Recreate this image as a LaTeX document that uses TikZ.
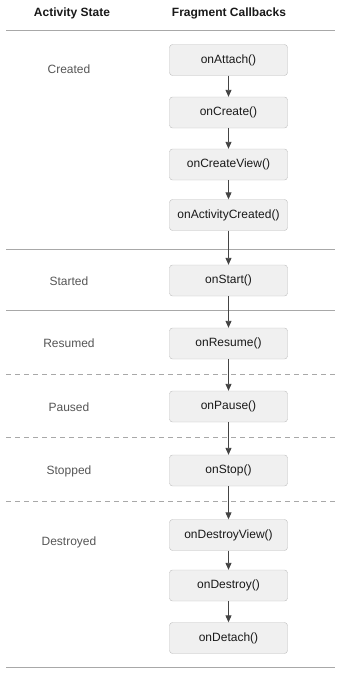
\documentclass[tikz,border=0pt]{standalone}
\usepackage{fontspec}
\setmainfont{Liberation Sans}
\usepackage{tikz}
\usetikzlibrary{arrows.meta}
\definecolor{boxfill}{HTML}{F0F0F0}
\definecolor{boxline}{HTML}{BDBDBD}
\definecolor{sepline}{HTML}{A8A8A8}
\definecolor{arrowc}{HTML}{444444}
\definecolor{statec}{HTML}{555555}

\begin{document}
\begin{tikzpicture}[x=1pt,y=-1pt,
  cb/.style={draw=boxline,fill=boxfill,rounded corners=3pt,minimum width=118pt,minimum height=31pt,inner sep=0pt,font=\fontsize{12}{14}\selectfont,text=black!90},
  state/.style={font=\fontsize{12}{14}\selectfont,text=statec},
  head/.style={font=\fontsize{12}{14}\selectfont\bfseries,text=black!90},
  solidsep/.style={draw=sepline,line width=0.8pt},
  dashsep/.style={draw=sepline,line width=0.8pt,dash pattern=on 5pt off 4pt},
  flow/.style={draw=arrowc,line width=0.9pt,-{Triangle[length=7pt,width=6pt]}}]
  \useasboundingbox (0,0) rectangle (340,675);
  % headers
  \node[head] (hstate) at (72,13) {Activity State}; \node[head] (hcb) at (229,13) {Fragment Callbacks};
  % separators
  \draw[solidsep] (6,30) -- (335,30); \draw[solidsep] (6,249) -- (335,249); \draw[solidsep] (6,310) -- (335,310);
  \draw[dashsep] (6,374) -- (335,374); \draw[dashsep] (6,437) -- (335,437); \draw[dashsep] (6,501) -- (335,501);
  \draw[solidsep] (6,667) -- (335,667);
  % states
  \node[state] (created) at (69,69) {Created}; \node[state] (started) at (69,281) {Started};
  \node[state] (resumed) at (69,343) {Resumed}; \node[state] (paused) at (69,407) {Paused};
  \node[state] (stopped) at (69,471) {Stopped}; \node[state] (destroyed) at (69,542) {Destroyed};
  % callbacks
  \node[cb] (attach) at (228.5,60) {onAttach()};
  \node[cb] (create) at (228.5,112.5) {onCreate()};
  \node[cb] (createview) at (228.5,164.5) {onCreateView()};
  \node[cb] (actcreated) at (228.5,215) {onActivityCreated()};
  \node[cb] (start) at (228.5,280.5) {onStart()};
  \node[cb] (resume) at (228.5,343.5) {onResume()};
  \node[cb] (pause) at (228.5,406.5) {onPause()};
  \node[cb] (stop) at (228.5,470.5) {onStop()};
  \node[cb] (destroyview) at (228.5,535) {onDestroyView()};
  \node[cb] (destroy) at (228.5,585.5) {onDestroy()};
  \node[cb] (detach) at (228.5,638) {onDetach()};
  \foreach \a/\b in {attach/create,create/createview,createview/actcreated,actcreated/start,start/resume,resume/pause,pause/stop,stop/destroyview,destroyview/destroy,destroy/detach}
    \draw[flow] (\a) -- (\b);
\end{tikzpicture}
\end{document}
